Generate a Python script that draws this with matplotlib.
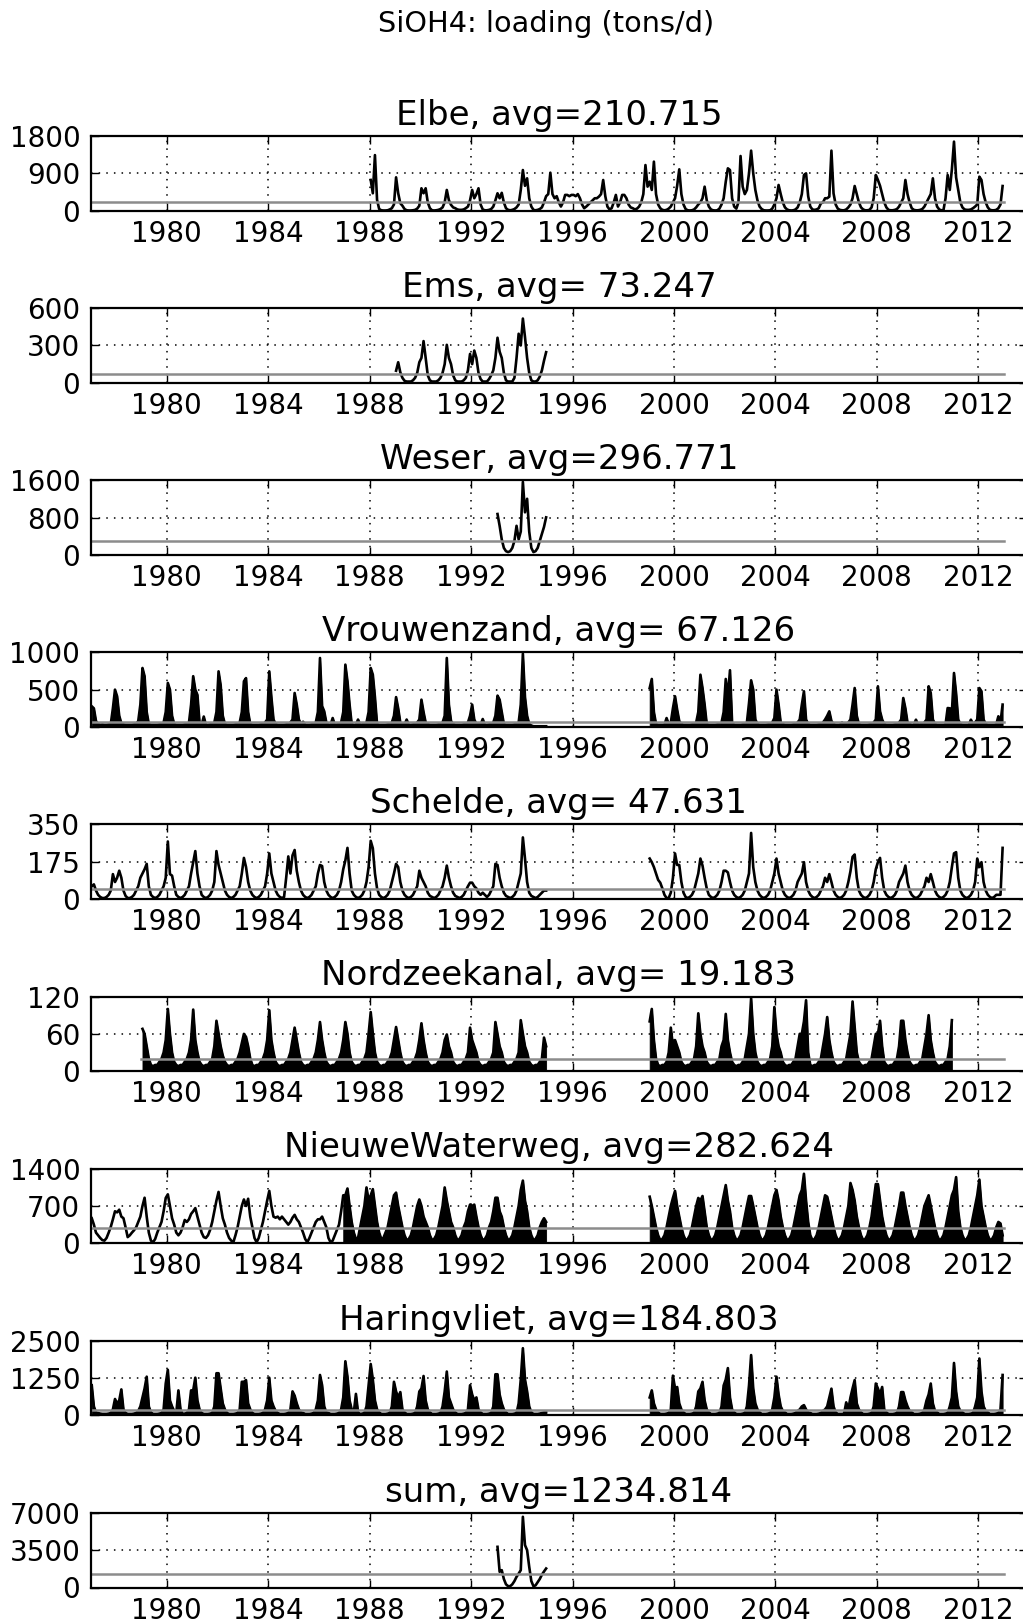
import numpy as np
import matplotlib
matplotlib.use("Agg")
import matplotlib.pyplot as plt

# Monthly SiOH4 loads in tons/d, one row per year (Jan..Dec)
elbe_start = 1988
elbe = [
    [740, 420, 1340, 260, 40, 10, 5, 5, 10, 30, 60, 150],
    [804, 420, 180, 120, 40, 10, 5, 5, 10, 20, 50, 120],
    [540, 420, 540, 200, 60, 10, 5, 10, 20, 40, 80, 200],
    [500, 250, 140, 80, 60, 30, 20, 20, 30, 60, 100, 250],
    [500, 300, 400, 540, 150, 30, 10, 10, 20, 40, 100, 250],
    [420, 300, 430, 200, 60, 20, 10, 20, 40, 80, 150, 500],
    [980, 600, 780, 300, 100, 20, 10, 20, 40, 80, 200, 350],
    [400, 916, 400, 300, 350, 200, 100, 200, 380, 380, 350, 380],
    [380, 350, 400, 300, 150, 60, 100, 150, 200, 250, 300, 300],
    [340, 400, 740, 350, 100, 30, 60, 200, 380, 100, 200, 380],
    [380, 300, 150, 80, 60, 30, 50, 100, 200, 400, 1100, 580],
    [700, 500, 1182, 400, 150, 60, 20, 10, 20, 50, 100, 200],
    [300, 600, 997, 400, 150, 40, 10, 5, 10, 30, 80, 150],
    [200, 300, 579, 250, 100, 30, 10, 5, 10, 50, 150, 300],
    [700, 1021, 980, 300, 100, 50, 200, 1318, 579, 400, 500, 900],
    [1447, 900, 500, 250, 100, 40, 10, 5, 5, 10, 50, 150],
    [300, 620, 400, 200, 80, 30, 10, 5, 10, 30, 80, 200],
    [400, 860, 900, 350, 100, 30, 20, 30, 60, 177, 200, 300],
    [300, 338, 1447, 418, 150, 50, 20, 10, 10, 30, 80, 150],
    [300, 595, 400, 200, 80, 30, 10, 10, 20, 80, 300, 860],
    [740, 600, 400, 200, 80, 20, 10, 10, 20, 40, 100, 200],
    [300, 740, 400, 200, 60, 20, 10, 10, 20, 40, 100, 200],
    [300, 400, 780, 300, 100, 30, 10, 10, 300, 860, 500, 997],
    [1664, 800, 500, 200, 80, 30, 20, 20, 30, 60, 100, 150],
    [820, 740, 400, 200, 80, 20, 10, 10, 20, 60, 150, 595],
]

ems_start = 1989
ems = [
    [97, 165, 84, 40, 16, 10, 10, 10, 20, 40, 80, 165],
    [200, 335, 200, 60, 20, 10, 10, 10, 20, 40, 80, 150],
    [305, 200, 150, 60, 20, 10, 10, 10, 20, 40, 100, 232],
    [150, 259, 200, 80, 30, 10, 10, 10, 30, 60, 100, 200],
    [362, 250, 200, 80, 20, 10, 10, 10, 40, 200, 394, 300],
    [516, 367, 200, 80, 20, 10, 10, 20, 50, 100, 178, 246],
]

weser_start = 1993
weser = [
    [876, 623, 333, 150, 80, 60, 80, 150, 300, 623, 333, 500],
    [1564, 912, 1202, 500, 150, 60, 80, 150, 300, 450, 600, 804],
]

vrouwenzand_a_start = 1977
vrouwenzand_a = [
    [277, 250, 80, 40, 30, 35, 30, 30, 35, 40, 250, 500],
    [410, 150, 50, 35, 30, 30, 30, 30, 35, 40, 80, 300],
    [790, 680, 200, 40, 30, 30, 30, 30, 35, 40, 60, 200],
    [590, 500, 150, 40, 30, 30, 30, 30, 35, 40, 60, 300],
    [680, 500, 430, 60, 30, 140, 30, 30, 35, 40, 60, 200],
    [745, 560, 150, 40, 30, 30, 30, 30, 35, 40, 60, 200],
    [612, 655, 200, 40, 30, 30, 30, 30, 35, 40, 60, 100],
    [745, 400, 100, 40, 30, 30, 30, 30, 35, 40, 60, 100],
    [455, 300, 100, 40, 70, 30, 30, 30, 35, 40, 60, 200],
    [924, 280, 210, 60, 30, 30, 120, 30, 35, 40, 60, 200],
    [835, 612, 300, 40, 30, 30, 100, 30, 35, 40, 60, 200],
    [790, 700, 400, 40, 30, 30, 30, 30, 35, 40, 60, 150],
    [400, 250, 60, 40, 30, 100, 30, 30, 35, 40, 60, 100],
    [366, 200, 60, 40, 30, 30, 30, 30, 35, 40, 60, 150],
    [924, 300, 80, 40, 30, 30, 30, 30, 35, 40, 60, 150],
    [300, 100, 40, 40, 30, 107, 30, 30, 35, 40, 60, 150],
    [420, 366, 200, 40, 30, 30, 30, 30, 35, 40, 60, 300],
    [982, 400, 150, 40, 20, 10, 10, 10, 10, 10, 10, 10],
]

vrouwenzand_b_start = 1999
vrouwenzand_b = [
    [522, 643, 200, 40, 30, 30, 30, 30, 120, 40, 60, 250],
    [411, 232, 80, 40, 30, 30, 30, 30, 35, 40, 60, 200],
    [700, 522, 300, 40, 30, 30, 30, 30, 35, 40, 60, 200],
    [643, 400, 760, 60, 30, 30, 30, 30, 35, 40, 60, 320],
    [625, 500, 100, 40, 30, 30, 30, 30, 35, 40, 60, 120],
    [500, 300, 60, 40, 30, 30, 30, 30, 35, 40, 60, 100],
    [300, 478, 100, 40, 30, 30, 30, 30, 35, 40, 60, 100],
    [150, 210, 80, 40, 30, 30, 30, 60, 35, 40, 60, 100],
    [300, 522, 150, 40, 30, 30, 30, 30, 35, 40, 60, 100],
    [545, 210, 100, 40, 30, 30, 30, 30, 35, 40, 60, 100],
    [388, 250, 60, 40, 30, 30, 98, 30, 35, 40, 60, 100],
    [545, 455, 100, 40, 30, 30, 30, 30, 35, 254, 250, 200],
    [723, 450, 100, 40, 30, 30, 30, 30, 98, 40, 60, 100],
    [522, 478, 100, 40, 30, 30, 30, 30, 35, 143, 60, 300],
]

schelde_a_start = 1977
schelde_a = [
    [60, 69, 40, 20, 10, 5, 5, 10, 20, 40, 117, 80],
    [100, 133, 100, 40, 15, 5, 5, 10, 20, 40, 60, 100],
    [120, 140, 165, 60, 20, 10, 5, 10, 20, 40, 60, 100],
    [270, 117, 110, 60, 20, 10, 5, 10, 20, 40, 60, 120],
    [173, 225, 120, 60, 20, 10, 5, 10, 20, 40, 80, 225],
    [160, 120, 80, 40, 20, 10, 5, 10, 20, 40, 60, 120],
    [193, 150, 80, 40, 20, 10, 5, 10, 20, 40, 60, 120],
    [214, 120, 80, 40, 20, 10, 5, 10, 100, 200, 120, 205],
    [230, 133, 80, 40, 20, 10, 5, 10, 20, 40, 60, 120],
    [160, 155, 80, 40, 20, 10, 5, 10, 20, 40, 80, 140],
    [181, 240, 120, 40, 20, 10, 5, 10, 20, 40, 80, 150],
    [273, 238, 120, 50, 20, 10, 5, 10, 20, 40, 80, 120],
    [165, 150, 80, 40, 20, 10, 5, 10, 20, 40, 60, 133],
    [100, 80, 60, 30, 15, 10, 5, 10, 20, 40, 60, 100],
    [157, 100, 60, 30, 15, 10, 5, 10, 20, 40, 60, 77],
    [77, 60, 50, 30, 20, 30, 20, 10, 20, 40, 60, 165],
    [160, 100, 60, 30, 15, 10, 5, 10, 20, 40, 80, 120],
    [289, 190, 80, 30, 15, 10, 5, 10, 20, 30, 40, 40],
]

schelde_b_start = 1999
schelde_b = [
    [190, 173, 150, 120, 90, 77, 50, 20, 5, 5, 30, 100],
    [214, 160, 160, 80, 30, 10, 5, 10, 20, 40, 80, 120],
    [190, 157, 100, 50, 20, 10, 5, 10, 20, 40, 80, 133],
    [133, 125, 80, 40, 20, 10, 5, 10, 20, 40, 80, 120],
    [310, 150, 80, 40, 20, 10, 5, 10, 20, 40, 80, 120],
    [190, 120, 80, 40, 20, 10, 5, 10, 20, 40, 80, 100],
    [120, 173, 80, 40, 20, 10, 5, 10, 20, 40, 60, 100],
    [80, 117, 80, 40, 20, 10, 5, 10, 20, 40, 80, 130],
    [198, 209, 100, 40, 20, 10, 5, 10, 20, 40, 80, 140],
    [173, 193, 100, 40, 20, 10, 5, 10, 20, 40, 80, 100],
    [120, 157, 80, 40, 20, 10, 5, 10, 20, 40, 60, 100],
    [80, 117, 80, 40, 20, 10, 5, 10, 20, 40, 80, 150],
    [214, 220, 100, 40, 20, 10, 5, 10, 20, 40, 80, 190],
    [150, 173, 80, 40, 20, 10, 5, 10, 20, 20, 20, 240],
]

nordzeekanal_a_start = 1979
nordzeekanal_a = [
    [68, 60, 40, 20, 10, 8, 10, 10, 15, 20, 30, 50],
    [100, 60, 30, 15, 10, 8, 10, 10, 15, 20, 30, 50],
    [99, 50, 30, 15, 10, 8, 10, 10, 15, 20, 40, 81],
    [60, 40, 25, 15, 10, 8, 10, 10, 15, 20, 30, 45],
    [60, 55, 40, 20, 10, 8, 10, 10, 15, 20, 30, 50],
    [98, 50, 30, 15, 10, 8, 10, 10, 15, 20, 30, 50],
    [70, 50, 30, 15, 10, 8, 10, 10, 15, 20, 30, 50],
    [79, 50, 30, 15, 10, 8, 10, 10, 15, 20, 30, 50],
    [79, 60, 30, 15, 10, 8, 10, 10, 15, 20, 30, 60],
    [95, 60, 30, 15, 10, 8, 10, 10, 15, 20, 30, 50],
    [71, 50, 30, 15, 10, 8, 10, 10, 15, 20, 30, 50],
    [77, 50, 30, 15, 10, 8, 10, 10, 15, 20, 30, 50],
    [59, 40, 30, 15, 10, 8, 10, 10, 15, 20, 30, 70],
    [50, 40, 30, 15, 10, 8, 10, 10, 15, 20, 30, 79],
    [60, 40, 30, 15, 10, 8, 10, 10, 15, 20, 30, 82],
    [60, 40, 30, 15, 10, 8, 10, 10, 15, 20, 54, 40],
]

nordzeekanal_b_start = 1999
nordzeekanal_b = [
    [80, 100, 50, 20, 10, 8, 10, 10, 15, 30, 70, 40],
    [50, 40, 30, 15, 10, 8, 10, 10, 15, 20, 40, 93],
    [60, 40, 30, 15, 10, 8, 10, 10, 15, 20, 40, 50],
    [92, 50, 30, 15, 10, 8, 10, 10, 15, 20, 40, 60],
    [117, 60, 30, 15, 10, 8, 10, 10, 15, 20, 40, 103],
    [60, 40, 30, 15, 10, 8, 10, 10, 15, 20, 40, 60],
    [60, 80, 114, 30, 10, 8, 10, 10, 15, 20, 40, 60],
    [87, 50, 30, 15, 10, 8, 10, 10, 15, 20, 40, 60],
    [112, 70, 30, 15, 10, 8, 10, 10, 15, 20, 40, 60],
    [60, 81, 40, 15, 10, 8, 10, 10, 15, 20, 40, 81],
    [81, 50, 30, 15, 10, 8, 10, 10, 15, 20, 40, 60],
    [90, 50, 30, 15, 10, 8, 10, 10, 15, 20, 40, 82],
]

nieuwewaterweg_a_start = 1977
nieuwewaterweg_a = [
    [470, 350, 200, 150, 100, 60, 50, 100, 200, 308, 450, 600],
    [580, 630, 500, 470, 300, 116, 150, 200, 244, 300, 400, 500],
    [700, 854, 500, 200, 50, 20, 80, 200, 300, 400, 600, 850],
    [918, 700, 470, 350, 200, 150, 200, 300, 437, 400, 450, 550],
    [600, 660, 500, 350, 200, 116, 100, 150, 250, 400, 600, 800],
    [963, 700, 470, 350, 200, 100, 50, 20, 150, 300, 500, 700],
    [822, 700, 835, 500, 300, 100, 20, 100, 250, 400, 600, 800],
    [982, 700, 500, 480, 500, 450, 500, 450, 400, 350, 400, 480],
    [533, 450, 400, 300, 200, 80, 20, 100, 200, 300, 400, 450],
    [450, 500, 400, 300, 100, 20, 50, 150, 250, 350, 600, 900],
    [900, 1027, 700, 400, 200, 80, 100, 300, 500, 700, 1047, 800],
    [900, 1015, 700, 400, 200, 80, 100, 200, 300, 500, 700, 900],
    [950, 700, 500, 300, 150, 60, 80, 150, 300, 500, 700, 822],
    [700, 500, 400, 300, 150, 60, 80, 150, 300, 500, 700, 1047],
    [800, 600, 400, 300, 150, 60, 80, 150, 300, 400, 600, 725],
    [700, 725, 500, 300, 150, 60, 80, 150, 300, 400, 600, 854],
    [854, 600, 500, 300, 150, 60, 80, 150, 300, 500, 700, 1000],
    [1175, 800, 600, 300, 150, 60, 80, 150, 300, 400, 470, 400],
]

nieuwewaterweg_b_start = 1999
nieuwewaterweg_b = [
    [873, 700, 500, 300, 150, 60, 80, 150, 300, 500, 700, 850],
    [982, 700, 500, 300, 150, 60, 80, 150, 300, 500, 700, 850],
    [800, 886, 600, 300, 150, 60, 80, 150, 300, 500, 700, 900],
    [1091, 800, 600, 300, 150, 60, 80, 150, 300, 500, 700, 886],
    [886, 700, 500, 300, 150, 60, 80, 150, 300, 500, 700, 900],
    [1000, 800, 500, 300, 150, 60, 80, 150, 300, 500, 700, 900],
    [1000, 1303, 800, 400, 150, 60, 80, 150, 300, 500, 700, 900],
    [873, 700, 500, 300, 150, 60, 80, 150, 300, 500, 700, 1130],
    [1000, 800, 500, 300, 150, 60, 80, 150, 300, 500, 800, 1110],
    [1110, 800, 500, 300, 150, 60, 80, 150, 300, 500, 700, 950],
    [950, 700, 500, 300, 150, 60, 80, 150, 300, 500, 700, 800],
    [900, 700, 500, 300, 150, 60, 80, 150, 300, 500, 700, 900],
    [1000, 1240, 600, 300, 150, 60, 80, 150, 300, 500, 700, 900],
    [1194, 700, 500, 300, 150, 60, 80, 150, 300, 400, 372, 150],
]

haringvliet_a_start = 1977
haringvliet_a = [
    [1010, 300, 100, 80, 60, 50, 50, 50, 60, 80, 200, 550],
    [400, 500, 870, 200, 80, 50, 50, 50, 60, 80, 150, 300],
    [600, 900, 1296, 300, 100, 50, 50, 50, 60, 80, 200, 1067],
    [1525, 500, 300, 150, 80, 837, 200, 50, 60, 80, 200, 837],
    [837, 1262, 500, 200, 80, 50, 50, 50, 60, 80, 300, 1411],
    [1411, 900, 400, 200, 80, 50, 50, 50, 60, 80, 200, 1124],
    [1124, 1181, 400, 200, 80, 50, 50, 50, 60, 80, 200, 500],
    [1262, 500, 300, 150, 80, 50, 50, 50, 60, 80, 200, 803],
    [660, 400, 200, 100, 80, 50, 50, 50, 60, 80, 200, 500],
    [1353, 1009, 300, 100, 80, 50, 50, 50, 60, 80, 200, 600],
    [1812, 1296, 500, 200, 100, 720, 100, 50, 60, 80, 300, 1000],
    [1720, 1200, 500, 200, 100, 50, 50, 50, 60, 80, 300, 1124],
    [800, 600, 780, 200, 100, 50, 50, 50, 60, 80, 300, 800],
    [900, 1319, 500, 200, 100, 50, 50, 50, 60, 80, 300, 800],
    [1468, 600, 400, 200, 100, 50, 50, 50, 60, 80, 200, 1009],
    [700, 500, 603, 200, 100, 50, 50, 50, 60, 80, 300, 1376],
    [1376, 700, 400, 200, 100, 50, 50, 50, 60, 80, 400, 1200],
    [2248, 1200, 803, 300, 100, 50, 50, 50, 60, 80, 100, 100],
]

haringvliet_b_start = 1999
haringvliet_b = [
    [600, 837, 400, 200, 100, 50, 50, 50, 60, 80, 200, 1330],
    [900, 950, 400, 200, 100, 50, 50, 50, 60, 80, 300, 800],
    [900, 1124, 500, 200, 100, 50, 50, 50, 60, 80, 300, 1000],
    [1200, 1583, 600, 200, 100, 50, 50, 50, 60, 80, 300, 1000],
    [2019, 900, 400, 200, 100, 50, 50, 50, 60, 80, 200, 600],
    [1296, 700, 300, 150, 100, 50, 50, 50, 60, 80, 150, 200],
    [300, 344, 200, 100, 80, 50, 50, 50, 60, 80, 150, 200],
    [300, 600, 895, 300, 100, 50, 50, 50, 60, 436, 200, 600],
    [900, 1181, 400, 200, 100, 50, 50, 50, 60, 80, 300, 1067],
    [900, 700, 951, 200, 100, 50, 50, 50, 60, 80, 300, 780],
    [780, 500, 300, 150, 100, 50, 50, 50, 60, 80, 200, 500],
    [700, 1067, 400, 150, 100, 50, 50, 50, 60, 80, 300, 600],
    [1755, 800, 300, 150, 100, 50, 50, 50, 60, 80, 300, 600],
    [1904, 800, 300, 150, 100, 50, 50, 50, 60, 80, 200, 1353],
]

sum_start = 1993
sum_all = [
    [3810, 1470, 1625, 800, 300, 125, 125, 300, 600, 1000, 1300, 1625],
    [6625, 3970, 3500, 1940, 600, 125, 200, 500, 800, 1200, 1500, 1780],
]

names = ["Elbe", "Ems", "Weser", "Vrouwenzand", "Schelde", "Nordzeekanal",
         "NieuweWaterweg", "Haringvliet", "sum"]
averages = [210.715, 73.247, 296.771, 67.126, 47.631, 19.183, 282.624, 184.803, 1234.814]
y_max = [1800, 600, 1600, 1000, 350, 120, 1400, 2500, 7000]
segments = [
    [(elbe_start, elbe)],
    [(ems_start, ems)],
    [(weser_start, weser)],
    [(vrouwenzand_a_start, vrouwenzand_a), (vrouwenzand_b_start, vrouwenzand_b)],
    [(schelde_a_start, schelde_a), (schelde_b_start, schelde_b)],
    [(nordzeekanal_a_start, nordzeekanal_a), (nordzeekanal_b_start, nordzeekanal_b)],
    [(nieuwewaterweg_a_start, nieuwewaterweg_a), (nieuwewaterweg_b_start, nieuwewaterweg_b)],
    [(haringvliet_a_start, haringvliet_a), (haringvliet_b_start, haringvliet_b)],
    [(sum_start, sum_all)],
]
# first year of each record's time axis (avg line runs from here)
axis_start = [1977, 1977, 1977, 1977, 1977, 1979, 1977, 1977, 1977]
# spiky daily records render as solid black from this year on (None = line only)
fill_from = [None, None, None, 1977, None, 1979, 1986.9, 1977, None]
t_end = 2013.03
year_ticks = list(range(1980, 2013, 4))

fig = plt.figure(figsize=(10.23, 16.23), dpi=100)
fig.text(546 / 1023, 1 - 32 / 1623, "SiOH4: loading (tons/d)", ha="center",
         va="baseline", fontsize=20.7)

W, H = 1023.0, 1623.0
for i, name in enumerate(names):
    top = 136 + i * 172.1
    ax = fig.add_axes([90.7 / W, 1 - (top + 74.7) / H, (1027 - 90.7) / W, 74.7 / H])

    for start, rows in segments[i]:
        vals = np.ravel(rows).astype(float)
        t = start + (np.arange(len(vals)) + 0.5) / 12.0
        if fill_from[i] is not None:
            ax.fill_between(t, 0, vals, where=t >= fill_from[i], color="k",
                            linewidth=0.6)
        ax.plot(t, vals, color="k", linewidth=1.9)

    ax.plot([axis_start[i], t_end], [averages[i]] * 2, color="0.55", linewidth=1.8)

    ax.set_xlim(1977, 1977 + (1027 - 90.7) / 25.36)
    ax.set_ylim(0, y_max[i])
    ax.set_xticks(year_ticks)
    ax.set_yticks([0, y_max[i] // 2, y_max[i]])
    ax.tick_params(direction="in", top=True, right=True, length=6, width=1,
                   labelsize=20)
    ax.tick_params(axis="x", pad=6.5)
    ax.tick_params(axis="y", pad=7.5)
    ax.grid(True, color="k", linestyle=(0, (1, 4)), linewidth=1.1)
    for sp in ax.spines.values():
        sp.set_linewidth(1.6)
    ax.set_title(f"{name}, avg={averages[i]:7.3f}", fontsize=24.5, pad=8)

fig.savefig("out.png", dpi=100)
